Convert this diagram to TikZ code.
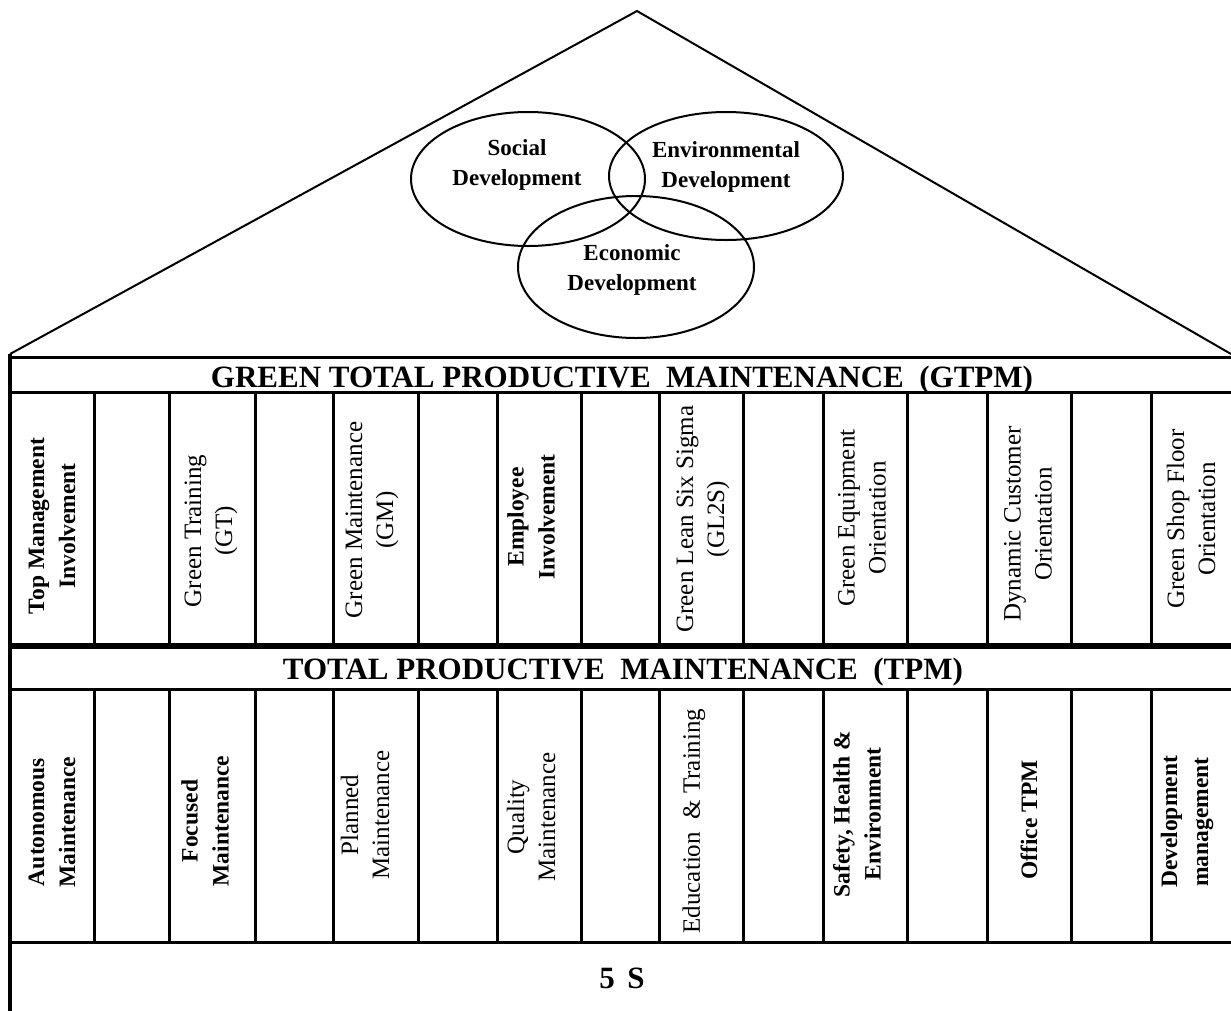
\documentclass[tikz,border=0pt]{standalone}
\usepackage{fontspec}
\setmainfont{Liberation Serif}
\begin{document}
\begin{tikzpicture}[x=1pt,y=-1pt,
  wall/.style={line width=3pt},
  leftwall/.style={line width=3.6pt},
  thinline/.style={line width=2pt},
  ttl/.style={font=\bfseries\fontsize{31}{36}\selectfont, anchor=base, inner sep=0pt},
  lbb/.style={rotate=90, align=center, inner sep=0pt, font=\bfseries\fontsize{23.5}{31}\selectfont},
  lbr/.style={rotate=90, align=center, inner sep=0pt, font=\fontsize{25}{31}\selectfont},
  venntext/.style={align=center, inner sep=0pt, font=\bfseries\fontsize{23}{30}\selectfont}]
\useasboundingbox (0,0) rectangle (1231,1010);
\clip (0,0) rectangle (1231,1010);

% roof
\coordinate (roofL) at (10,354);
\coordinate (apex) at (637,11);
\coordinate (roofR) at (1231,354);
\draw[thinline, line join=miter] (roofL) -- (apex) -- (roofR);

% venn ellipses
\draw[thinline] (528,179) ellipse [x radius=117, y radius=67];
\draw[thinline] (726,176) ellipse [x radius=117, y radius=64];
\draw[thinline] (636,267) ellipse [x radius=118, y radius=71];
\node[venntext] (soc) at (517,165) {Social\\Development};
\node[venntext] (env) at (726,167) {Environmental\\Development};
\node[venntext] (eco) at (632,270) {Economic\\Development};

% bands
\draw[wall] (10,357) rectangle (1245,392);
\draw[wall] (10,647) rectangle (1245,689);
\draw[wall] (10,942) rectangle (1245,1025);

% columns
\foreach \a/\b in {10/94, 94/169, 169/255, 255/333, 333/418, 418/497, 497/581, 581/659, 659/743, 743/823, 823/907, 907/987, 987/1071, 1071/1151, 1151/1245} {
  \draw[wall] (\a,392) rectangle (\b,644);
  \draw[wall] (\a,689) rectangle (\b,942);
}
\draw[leftwall] (10,354) -- (10,1015);

% titles
\node[ttl] (gtpm) at (622,387) {GREEN TOTAL PRODUCTIVE\hspace{.5em}MAINTENANCE\hspace{.5em}(GTPM)};
\node[ttl] (tpm) at (623,679) {TOTAL PRODUCTIVE\hspace{.5em}MAINTENANCE\hspace{.5em}(TPM)};
\node[ttl] (fives) at (622,988) {5\hspace{.4em}S};

% GTPM pillars
\node[lbb] (g1) at (52,526) {Top Management\\Involvement};
\node[lbr] (g2) at (211,531) {Green Training\\(GT)};
\node[lbr] (g3) at (372,520) {Green Maintenance\\(GM)};
\node[lbb] (g4) at (531,517) {Employee\\Involvement};
\node[lbr] (g5) at (703,519) {Green Lean Six Sigma\\(GL2S)};
\node[lbr] (g6) at (862,518) {Green Equipment\\Orientation};
\node[lbr] (g7) at (1028,524) {Dynamic Customer\\Orientation};
\node[lbr] (g8) at (1191,519) {Green Shop Floor\\Orientation};

% TPM pillars
\node[lbb] (t1) at (52,822) {Autonomous\\Maintenance};
\node[lbb] (t2) at (205,821) {Focused\\Maintenance};
\node[lbr] (t3) at (365,815) {Planned\\Maintenance};
\node[lbr] (t4) at (531,817) {Quality\\Maintenance};
\node[lbr] (t5) at (694,821) {Education\hspace{.5em}\& Training};
\node[lbb] (t6) at (857,814) {Safety, Health \&\\Environment};
\node[lbb] (t7) at (1029,820) {Office TPM};
\node[lbb] (t8) at (1187,822) {Development\\management};
\end{tikzpicture}
\end{document}
